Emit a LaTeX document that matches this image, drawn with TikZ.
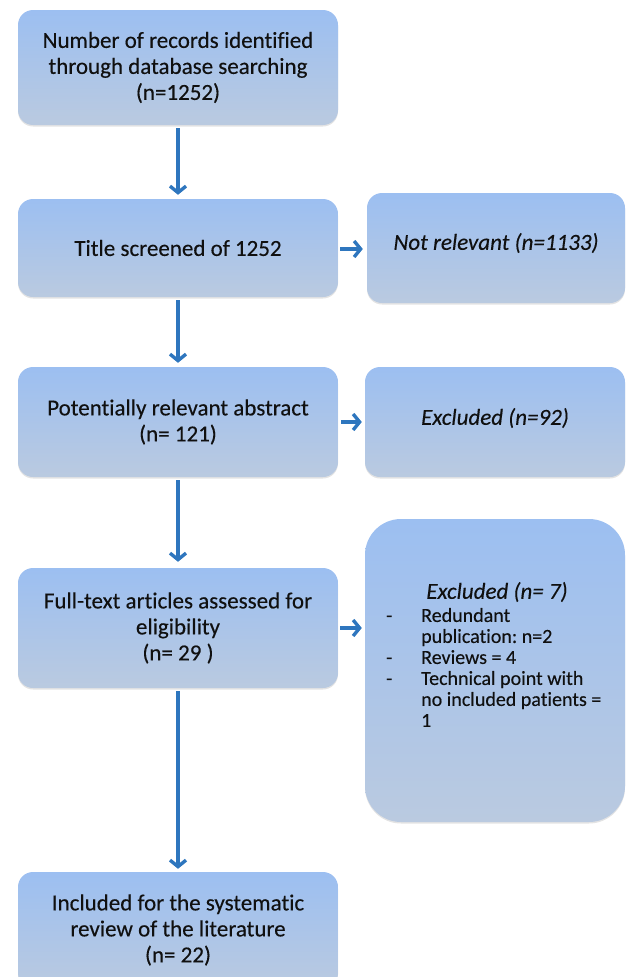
\documentclass[tikz,border=0pt]{standalone}
\usepackage{fontspec}
\setmainfont{Carlito}[Ligatures=NoCommon, FakeBold=0.25, AutoFakeBold=0]
\usetikzlibrary{arrows.meta,shadows}
\definecolor{boxtop}{HTML}{9CBFF1}
\definecolor{boxbot}{HTML}{BACAE0}
\definecolor{arrowblue}{HTML}{2E76BE}
\definecolor{txt}{HTML}{101010}
\frenchspacing
\begin{document}
\begin{tikzpicture}[x=1pt,y=-1pt,
  flowbox/.style={rounded corners=15pt, top color=boxtop, bottom color=boxbot, draw=none,
    align=center, text=txt, font=\fontsize{23}{26}\selectfont, inner sep=0pt,
    drop shadow={shadow xshift=0pt, shadow yshift=-1.5pt, opacity=0.18, fill=black!60}},
  flowarrow/.style={draw=arrowblue, line width=3.4pt, -{Straight Barb[length=6.5pt,width=16pt]}},
]
\useasboundingbox (0,0) rectangle (627,977);
% main column
\node[flowbox, minimum width=320pt, minimum height=115pt] (b1) at (178,67.5)
  {Number of records identified\\through database searching\\(n=1252)};
\node[flowbox, minimum width=320pt, minimum height=98pt] (b2) at (178,248)
  {Title screened of 1252};
\node[flowbox, minimum width=320pt, minimum height=110pt] (b3) at (178,422)
  {Potentially relevant abstract\\(n= 121)};
\node[flowbox, minimum width=320pt, minimum height=120pt] (b4) at (178,628)
  {Full-text articles assessed for\\eligibility\\(n= 29 )};
\node[flowbox, minimum width=320pt, minimum height=116pt] (b5) at (178,930)
  {Included for the systematic\\review of the literature\\(n= 22)};
% side boxes
\node[flowbox, minimum width=258pt, minimum height=110pt] (nr) at (496,248) {};
\node[text=txt, font=\fontsize{23}{26}\selectfont\itshape] (nrt) at (496,243) {Not relevant (n=1133)};
\node[flowbox, minimum width=260pt, minimum height=110pt] (e92) at (495,422) {};
\node[text=txt, font=\fontsize{23}{26}\selectfont\itshape] (e92t) at (495,418) {Excluded (n=92)};
\node[flowbox, rounded corners=36pt, minimum width=260pt, minimum height=303pt] (e7) at (495,670.5) {};
\node[text=txt, font=\fontsize{23}{26}\selectfont\itshape] (e7h) at (497,592) {Excluded (n= 7)};
\node[text=txt, font=\fontsize{20}{21}\selectfont, anchor=north west, inner sep=0pt, align=left] (e7l) at (386,607)
  {\begin{tabular}{@{}p{35pt}@{}l@{}}
   - & Redundant\\
     & publication: n=2\\
   - & Reviews = 4\\
   - & Technical point with\\
     & no included patients =\\
     & 1
   \end{tabular}};
% arrows
\draw[flowarrow, shorten <=3pt, shorten >=4pt] (b1.south) -- (b2.north);
\draw[flowarrow, shorten <=3pt, shorten >=4pt] (b2.south) -- (b3.north);
\draw[flowarrow, shorten <=3pt, shorten >=6pt] (b3.south) -- (b4.north);
\draw[flowarrow, shorten <=3pt, shorten >=3pt] (b4.south) -- (b5.north);
\draw[flowarrow, shorten <=2pt, shorten >=4pt] ([yshift=-1pt]b2.east) -- ([yshift=-1pt]b2.east -| nr.west);
\draw[flowarrow, shorten <=3pt, shorten >=3pt] (b3.east) -- (b3.east -| e92.west);
\draw[flowarrow, shorten <=2pt, shorten >=3pt] (b4.east) -- (b4.east -| e7.west);
\end{tikzpicture}
\end{document}
